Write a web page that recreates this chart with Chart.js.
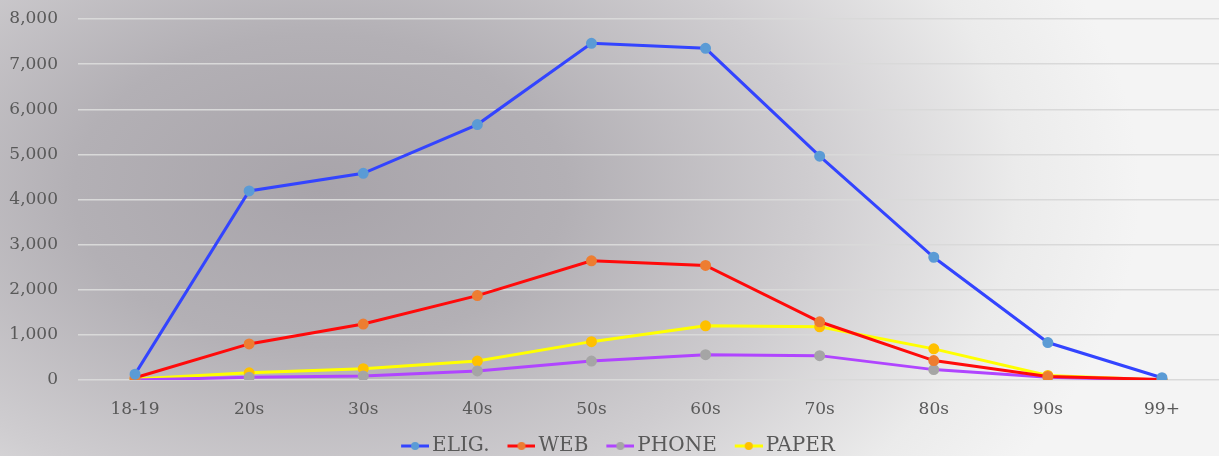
<!DOCTYPE html>
<html>
<head>
<meta charset="utf-8">
<script src="https://cdn.jsdelivr.net/npm/chart.js@4"></script>
<style>
  html, body { margin: 0; padding: 0; }
  body {
    width: 1219px; height: 456px; overflow: hidden;
    background:
      radial-gradient(ellipse 820px 520px at 320px 190px, #a8a4aa 0%, #b3b0b5 30%, #cfcdd0 60%, #ebebeb 85%, #f4f4f4 100%);
  }
  #wrap { position: relative; width: 1219px; height: 456px; }
</style>
</head>
<body>
<div id="wrap"><canvas id="c"></canvas></div>
<script>
const categories = ['18-19', '20s', '30s', '40s', '50s', '60s', '70s', '80s', '90s', '99+'];
const eligValues = [130, 4190, 4580, 5660, 7460, 7350, 4960, 2720, 830, 50];
const webValues = [50, 800, 1240, 1870, 2640, 2540, 1290, 430, 80, 10];
const phoneValues = [0, 60, 90, 200, 420, 560, 540, 230, 60, 0];
const paperValues = [20, 160, 250, 420, 850, 1200, 1180, 690, 100, 0];

const SERIES = [
  { label: 'ELIG.', data: eligValues, line: '#3344ff', point: '#5b9bd5' },
  { label: 'WEB', data: webValues, line: '#ff0a0a', point: '#ed7d31' },
  { label: 'PHONE', data: phoneValues, line: '#b045ff', point: '#a5a5a5' },
  { label: 'PAPER', data: paperValues, line: '#ffff00', point: '#ffc000' },
];

const FONT = "'DejaVu Serif', 'Liberation Serif', serif";
const TEXT = '#595959';

// legend marker: line with a dot, drawn on the right part of a wider canvas
function legendIcon(line, point) {
  const c = document.createElement('canvas');
  c.width = 44; c.height = 10;
  const g = c.getContext('2d');
  g.strokeStyle = line;
  g.lineWidth = 3;
  g.beginPath();
  g.moveTo(16, 5);
  g.lineTo(44, 5);
  g.stroke();
  g.fillStyle = point;
  g.beginPath();
  g.arc(30, 5, 4, 0, Math.PI * 2);
  g.fill();
  return c;
}

new Chart(document.getElementById('c'), {
  type: 'line',
  data: {
    labels: categories,
    datasets: SERIES.map((s) => ({
      label: s.label,
      data: s.data,
      borderColor: s.line,
      backgroundColor: s.point,
      pointBackgroundColor: s.point,
      pointBorderColor: s.point,
      pointRadius: 4,
      borderWidth: 3,
      tension: 0,
      fill: false,
    })),
  },
  options: {
    responsive: true,
    maintainAspectRatio: false,
    animation: false,
    layout: { autoPadding: false, padding: { left: 8, right: 0, top: 0, bottom: -10 } },
    plugins: {
      tooltip: { enabled: false },
      legend: {
        position: 'bottom',
        labels: {
          usePointStyle: true,
          pointStyleWidth: 30,
          padding: 9,
          color: TEXT,
          font: { family: FONT, size: 20 },
          generateLabels: (chart) => chart.data.datasets.map((d, i) => ({
            text: d.label,
            pointStyle: legendIcon(SERIES[i].line, SERIES[i].point),
            fillStyle: SERIES[i].point,
            strokeStyle: SERIES[i].line,
            lineWidth: 0,
            fontColor: TEXT,
            datasetIndex: i,
            hidden: false,
          })),
        },
      },
    },
    scales: {
      x: {
        offset: true,
        grid: { display: false, drawTicks: false },
        border: { display: false },
        ticks: { color: TEXT, font: { family: FONT, size: 17 }, padding: 19 },
        afterFit: (axis) => {
          axis.height = 47;
          axis.paddingLeft = 0;
          axis.paddingRight = 0;
        },
      },
      y: {
        min: 0,
        max: 8000,
        grid: { color: '#d9d9d9', lineWidth: 1.5, drawTicks: false },
        border: { display: false },
        ticks: {
          stepSize: 1000,
          color: TEXT,
          font: { family: FONT, size: 17 },
          padding: 20,
          callback: (v) => v.toLocaleString('en-US'),
        },
        afterFit: (axis) => {
          axis.width = 70;
          axis.paddingTop = 19;
          axis.paddingBottom = 0;
        },
      },
    },
  },
});
</script>
</body>
</html>
